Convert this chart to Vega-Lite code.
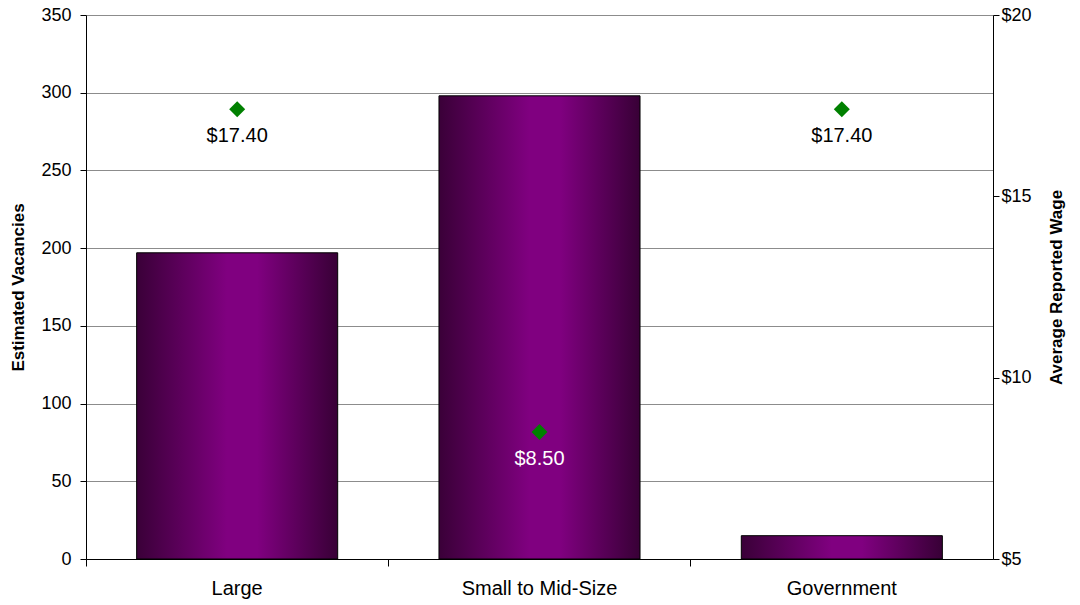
{
  "$schema": "https://vega.github.io/schema/vega-lite/v6.json",
  "width": 907,
  "height": 544,
  "autosize": "none",
  "padding": {"left": 86, "top": 15, "right": 87, "bottom": 46},
  "background": "white",
  "config": {
    "view": {"stroke": null},
    "font": "Liberation Sans",
    "axis": {"labelFont": "Liberation Sans", "titleFont": "Liberation Sans", "labelColor": "#000", "titleColor": "#000"}
  },
  "data": {
    "values": [
      {"category": "Large", "vacancies": 197, "wage": 17.4},
      {"category": "Small to Mid-Size", "vacancies": 298, "wage": 8.5},
      {"category": "Government", "vacancies": 15, "wage": 17.4}
    ]
  },
  "encoding": {
    "x": {
      "field": "category",
      "type": "nominal",
      "sort": null,
      "scale": {"paddingInner": 0, "paddingOuter": 0},
      "axis": {
        "title": null,
        "labelAngle": 0,
        "labelFontSize": 20,
        "labelPadding": 12,
        "bandPosition": 0,
        "tickSize": 7,
        "tickColor": "#000",
        "domainColor": "#000",
        "grid": false
      }
    }
  },
  "layer": [
    {
      "mark": {
        "type": "bar",
        "width": {"band": 0.665},
        "color": {
          "gradient": "linear",
          "x1": 0, "x2": 1, "y1": 0, "y2": 0,
          "stops": [
            {"offset": 0, "color": "#3a0038"},
            {"offset": 0.45, "color": "#800080"},
            {"offset": 0.6, "color": "#800080"},
            {"offset": 1, "color": "#380036"}
          ]
        },
        "stroke": "#000",
        "strokeWidth": 1
      },
      "encoding": {
        "y": {
          "field": "vacancies",
          "type": "quantitative",
          "scale": {"domain": [0, 350], "nice": false},
          "axis": {
            "title": "Estimated Vacancies",
            "titleFontSize": 17,
            "titleFontWeight": "bold",
            "titlePadding": 13,
            "values": [0, 50, 100, 150, 200, 250, 300, 350],
            "labelFontSize": 18,
            "labelPadding": 9,
            "tickSize": 6,
            "tickColor": "#000",
            "domainColor": "#000",
            "grid": true,
            "gridColor": "#8c8c8c",
            "gridWidth": 1
          }
        }
      }
    },
    {
      "layer": [
        {
          "mark": {"type": "point", "shape": "diamond", "filled": true, "color": "#008000", "size": 256, "opacity": 1},
          "encoding": {
            "y": {
              "field": "wage",
              "type": "quantitative",
              "scale": {"domain": [5, 20], "zero": false, "nice": false},
              "axis": {
                "orient": "right",
                "title": "Average Reported Wage",
                "titleFontSize": 17,
                "titleFontWeight": "bold",
                "titleAngle": 270,
                "titlePadding": 34,
                "values": [5, 10, 15, 20],
                "format": "$.0f",
                "labelFontSize": 18,
                "labelPadding": 2,
                "tickSize": 6,
                "tickColor": "#000",
                "domainColor": "#000",
                "grid": false
              }
            }
          }
        },
        {
          "mark": {"type": "text", "dy": 27, "fontSize": 20, "font": "Liberation Sans"},
          "encoding": {
            "y": {"field": "wage", "type": "quantitative", "title": "Average Reported Wage", "scale": {"domain": [5, 20], "zero": false, "nice": false}},
            "text": {"field": "wage", "type": "quantitative", "format": "$.2f"},
            "color": {
              "condition": {"test": "datum.category === 'Small to Mid-Size'", "value": "#ffffff"},
              "value": "#000000"
            }
          }
        }
      ]
    }
  ],
  "resolve": {"scale": {"y": "independent"}}
}
